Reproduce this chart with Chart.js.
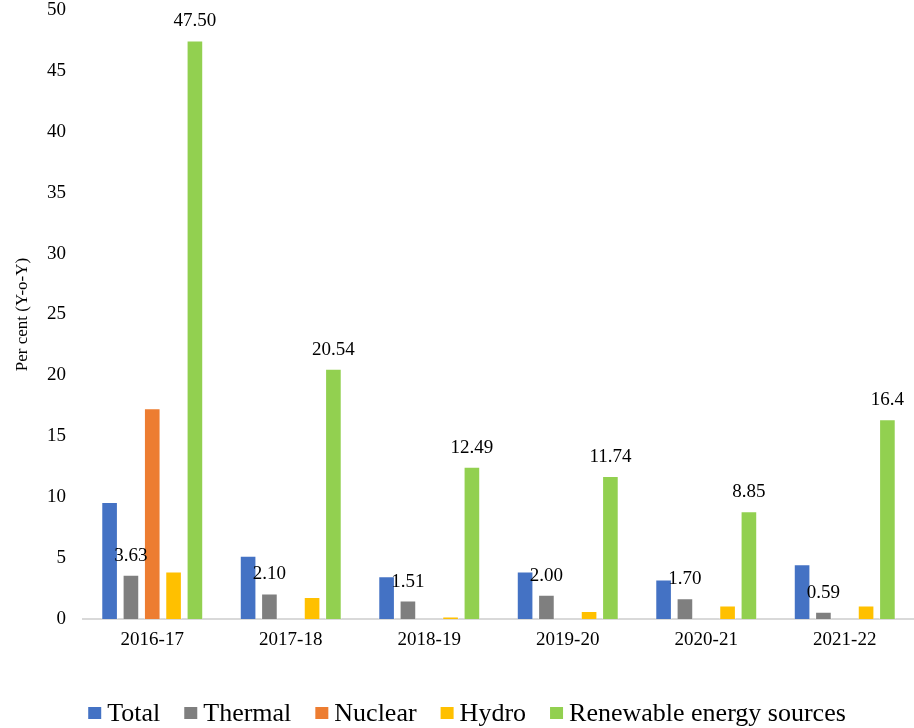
<!DOCTYPE html>
<html>
<head>
<meta charset="utf-8">
<script src="https://cdn.jsdelivr.net/npm/chart.js@4/dist/chart.umd.min.js"></script>
<style>
  html, body { margin: 0; padding: 0; background: #fff; }
  #wrap { width: 914px; height: 728px; }
</style>
</head>
<body>
<div id="wrap"><canvas id="grafico"></canvas></div>
<script>
// Años fiscales
const years = ["2016-17", "2017-18", "2018-19", "2019-20", "2020-21", "2021-22"];

// Crecimiento interanual (%) por fuente
const total = [9.6, 5.2, 3.5, 3.9, 3.25, 4.5];
const thermalText = ["3.63", "2.10", "1.51", "2.00", "1.70", "0.59"];
const thermal = thermalText.map(Number);
const nuclear = [17.3, null, null, null, null, null];
const hydro = [3.9, 1.8, 0.2, 0.65, 1.1, 1.1];
const renewableText = ["47.50", "20.54", "12.49", "11.74", "8.85", "16.4"];
const renewable = renewableText.map(Number);

const yTicks = [0, 5, 10, 15, 20, 25, 30, 35, 40, 45, 50];

const serif = "'Liberation Serif', 'Times New Roman', serif";

// etiquetas de valor encima de las barras (solo térmica y renovables)
const etiquetas = {
    id: "etiquetas",
    afterDatasetsDraw(chart) {
        const ctx = chart.ctx;
        const textos = { 1: thermalText, 4: renewableText };
        ctx.save();
        ctx.font = "19px " + serif;
        ctx.fillStyle = "#000";
        ctx.textAlign = "center";
        ctx.textBaseline = "middle";
        Object.keys(textos).forEach((i) => {
            const meta = chart.getDatasetMeta(i);
            meta.data.forEach((bar, j) => {
                ctx.fillText(textos[i][j], bar.x, bar.y - 19);
            });
        });
        ctx.restore();
    }
};

// leyenda dibujada a mano debajo del eje (cuadro pequeño pegado al texto)
const leyenda = {
    id: "leyenda",
    afterDraw(chart) {
        const ctx = chart.ctx;
        const sets = chart.data.datasets;
        const caja = 13, altoCaja = 12, hueco = 6, separacion = 24;
        ctx.save();
        ctx.font = "26px " + serif;
        ctx.textBaseline = "middle";
        ctx.textAlign = "left";
        const anchos = sets.map(d => ctx.measureText(d.label).width);
        const totalAncho = anchos.reduce((a, b) => a + b, 0) + sets.length * (caja + hueco) + (sets.length - 1) * separacion;
        let x = chart.width / 2 + 10 - totalAncho / 2;
        const y = chart.height - 15;
        sets.forEach((d, i) => {
            ctx.fillStyle = d.backgroundColor;
            ctx.fillRect(x, y - altoCaja / 2, caja, altoCaja);
            x += caja + hueco;
            ctx.fillStyle = "#000";
            ctx.fillText(d.label, x, y + 1);
            x += anchos[i] + separacion;
        });
        ctx.restore();
    }
};

const borde = "rgba(255,255,255,0.45)";

new Chart(document.getElementById("grafico"), {
    type: "bar",
    data: {
        labels: years,
        datasets: [
            { label: "Total", data: total, backgroundColor: "#4472C4" },
            { label: "Thermal", data: thermal, backgroundColor: "#7F7F7F" },
            { label: "Nuclear", data: nuclear, backgroundColor: "#ED7D31" },
            { label: "Hydro", data: hydro, backgroundColor: "#FFC000" },
            { label: "Renewable energy sources", data: renewable, backgroundColor: "#92D050" }
        ].map(d => Object.assign(d, { borderColor: borde, borderWidth: 1, borderSkipped: "bottom" }))
    },
    options: {
        responsive: true,
        maintainAspectRatio: false,
        animation: false,
        categoryPercentage: 0.77,
        barPercentage: 0.78,
        layout: { padding: { top: 10, right: 0, bottom: 0, left: 0 } },
        plugins: {
            legend: { display: false },
            tooltip: { enabled: false }
        },
        scales: {
            x: {
                grid: { display: false, drawTicks: false },
                border: { color: "#D9D9D9", width: 2 },
                ticks: { color: "#000", padding: 10, font: { family: serif, size: 19 } },
                // deja sitio para la leyenda
                afterFit(scale) { scale.height = 109; }
            },
            y: {
                min: 0,
                max: 50,
                afterBuildTicks(scale) { scale.ticks = yTicks.map(v => ({ value: v })); },
                grid: { display: false, drawTicks: false },
                border: { display: false },
                ticks: { color: "#000", padding: 17, font: { family: serif, size: 19 } },
                title: {
                    display: true,
                    text: "Per cent (Y-o-Y)",
                    color: "#000",
                    font: { family: serif, size: 17 },
                    padding: { top: 12, bottom: 6 }
                },
                afterFit(scale) {
                    scale.width = 83;
                    scale.paddingTop = 0;
                }
            }
        }
    },
    plugins: [etiquetas, leyenda]
});
</script>
</body>
</html>
